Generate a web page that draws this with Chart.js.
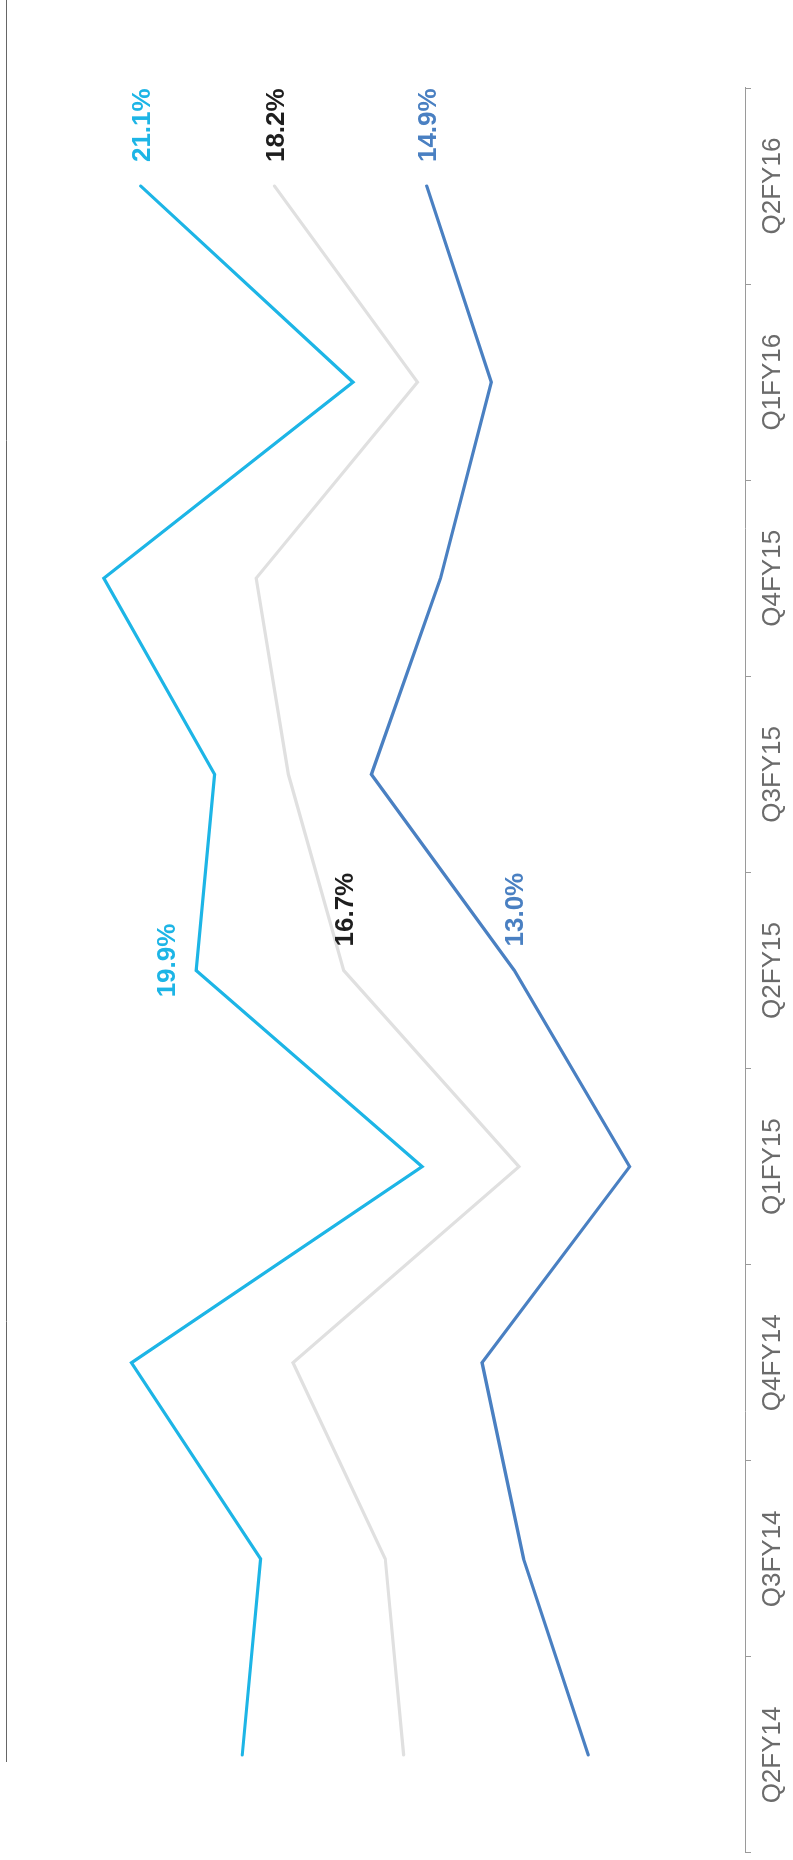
<!DOCTYPE html>
<html>
<head>
<meta charset="utf-8">
<title>Margen por trimestre</title>
<script src="https://cdn.jsdelivr.net/npm/chart.js@4.4.1/dist/chart.umd.min.js"></script>
<style>
    html, body { margin: 0; padding: 0; background: #fff; }
    #pagina { position: relative; width: 793px; height: 1860px; overflow: hidden; }
    /* el grafico se dibuja apaisado y se gira 90 grados */
    #giro { position: absolute; left: 0; top: 0; width: 1860px; height: 793px;
            transform-origin: 0 0; transform: translateY(1860px) rotate(-90deg); }
</style>
</head>
<body>
<div id="pagina">
    <div id="giro"><canvas id="myChart" width="1860" height="793"></canvas></div>
</div>
<script>
// Trimestres y series (%)
var trimestres = ['Q2FY14', 'Q3FY14', 'Q4FY14', 'Q1FY15', 'Q2FY15', 'Q3FY15', 'Q4FY15', 'Q1FY16', 'Q2FY16'];
var serieCeleste = [18.9, 18.5, 21.3, 15.0, 19.9, 19.5, 21.9, 16.5, 21.1];
var serieGris    = [15.4, 15.8, 17.8, 12.9, 16.7, 17.9, 18.6, 15.1, 18.2];
var serieAzul    = [11.4, 12.8, 13.7, 10.5, 13.0, 16.1, 14.6, 13.5, 14.9];
var ejeMin = 8, ejeMax = 24;
// puntos que llevan su valor escrito
var puntosConEtiqueta = [4, 8];

var fuente = '"Liberation Sans", Arial, sans-serif';
Chart.defaults.font.family = fuente;

// etiquetas de valor junto a los puntos
var etiquetas = {
    id: 'etiquetas',
    afterDatasetsDraw: function (chart) {
        var ctx = chart.ctx;
        ctx.save();
        ctx.font = 'bold 26px ' + fuente;
        ctx.textBaseline = 'alphabetic';
        chart.data.datasets.forEach(function (ds, i) {
            var meta = chart.getDatasetMeta(i);
            puntosConEtiqueta.forEach(function (idx) {
                var p = meta.data[idx];
                var texto = ds.data[idx].toFixed(1) + '%';
                ctx.fillStyle = ds.colorEtiqueta;
                if (ds.etiquetaArriba.indexOf(idx) >= 0) {
                    ctx.textAlign = 'center';
                    ctx.fillText(texto, p.x + 10, p.y - 21);
                } else {
                    ctx.textAlign = 'left';
                    ctx.fillText(texto, p.x + 24, p.y + 9);
                }
            });
        });
        ctx.restore();
    }
};

// filete superior
var filete = {
    id: 'filete',
    afterDraw: function (chart) {
        var ctx = chart.ctx;
        var y = Math.round(chart.scales.y.getPixelForValue(ejeMax)) - 0.5;
        ctx.save();
        ctx.strokeStyle = '#666';
        ctx.lineWidth = 1;
        ctx.beginPath();
        ctx.moveTo(98, y);
        ctx.lineTo(chart.width, y);
        ctx.stroke();
        ctx.restore();
    }
};

var ctx = document.getElementById('myChart').getContext('2d');
var myChart = new Chart(ctx, {
    type: 'line',
    data: {
        labels: trimestres,
        datasets: [{
            label: 'Celeste',
            data: serieCeleste,
            borderColor: '#1db5e6',
            colorEtiqueta: '#1db5e6',
            etiquetaArriba: [4],
            borderWidth: 3.2
        }, {
            label: 'Gris',
            data: serieGris,
            borderColor: '#e0e0e0',
            colorEtiqueta: '#1e1e1e',
            etiquetaArriba: [],
            borderWidth: 3.2
        }, {
            label: 'Azul',
            data: serieAzul,
            borderColor: '#4a80c2',
            colorEtiqueta: '#4a80c2',
            etiquetaArriba: [],
            borderWidth: 3.2
        }]
    },
    options: {
        responsive: false,
        animation: false,
        devicePixelRatio: 1,
        layout: { padding: { top: 7, left: 7, right: 88, bottom: 0 } },
        elements: {
            point: { radius: 0, hoverRadius: 0 },
            line: { tension: 0, fill: false, borderCapStyle: 'round' }
        },
        plugins: {
            legend: { display: false },
            tooltip: { enabled: false }
        },
        scales: {
            x: {
                offset: true,
                grid: {
                    display: true,
                    offset: true,
                    drawOnChartArea: false,
                    drawTicks: true,
                    tickLength: 6,
                    color: '#9a9a9a'
                },
                border: { display: true, color: '#9a9a9a', width: 1 },
                ticks: {
                    color: '#6b6b6b',
                    font: { size: 26 },
                    padding: 6,
                    maxRotation: 0,
                    autoSkip: false
                },
                afterFit: function (scale) { scale.height = 48; }
            },
            y: {
                display: false,
                min: ejeMin,
                max: ejeMax
            }
        }
    },
    plugins: [etiquetas, filete]
});
</script>
</body>
</html>
